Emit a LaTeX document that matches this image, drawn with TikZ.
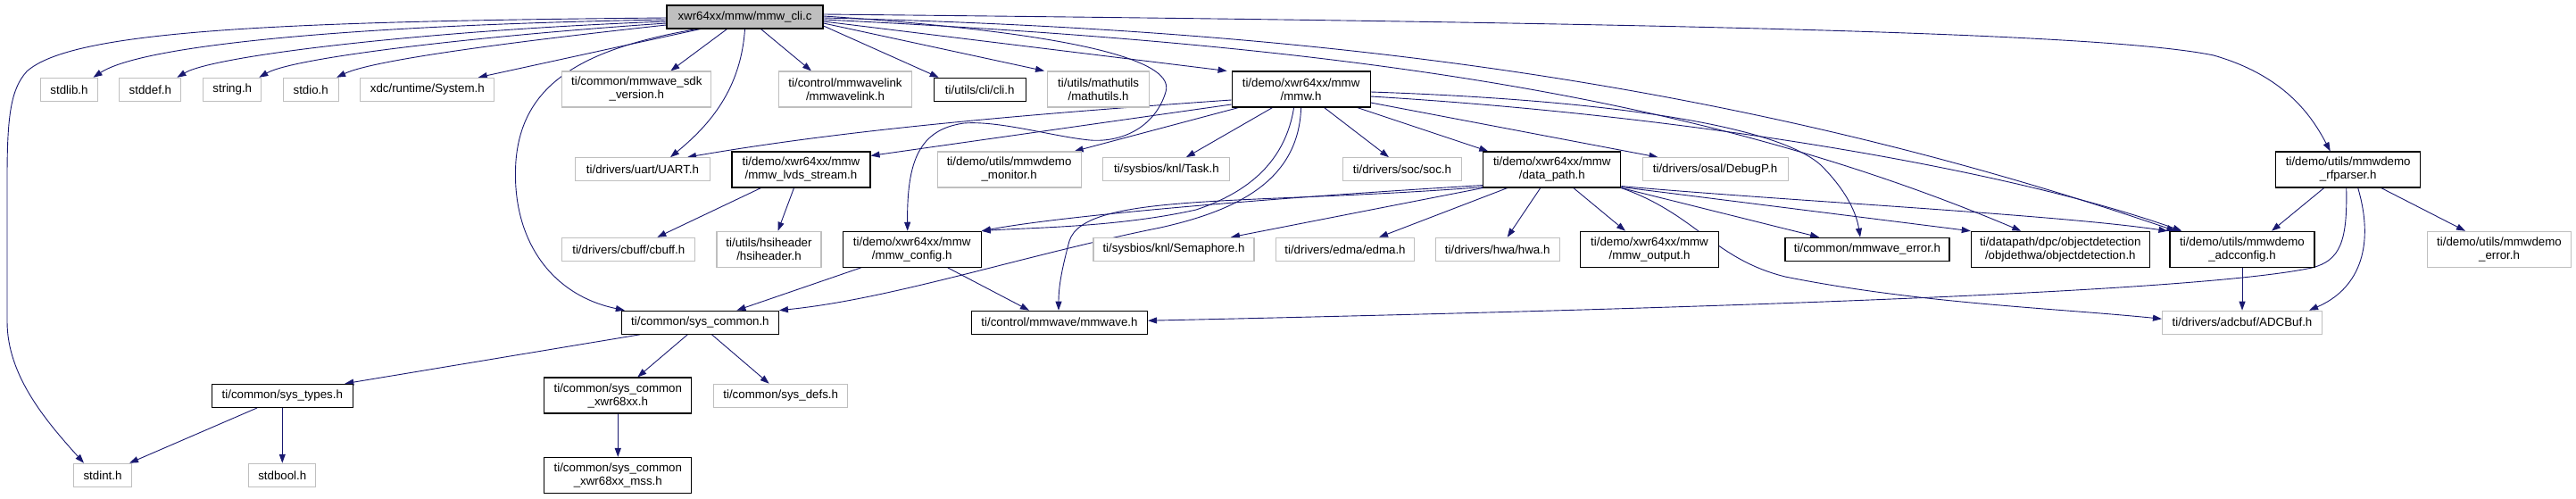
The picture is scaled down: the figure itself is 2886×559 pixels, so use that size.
\documentclass[tikz,border=0pt]{standalone}
\usepackage{fontspec}
\setmainfont{Liberation Sans}
\usetikzlibrary{arrows.meta,backgrounds}
\definecolor{edgeblue}{HTML}{191970}
\definecolor{grayb}{HTML}{BFBFBF}
\begin{document}
\begin{tikzpicture}[x=1pt,y=-1pt,
  box/.style={draw, rectangle, inner sep=0pt, align=center, font=\fontsize{13.3}{15}\selectfont, line width=1.1pt, fill=white},
  gbox/.style={box, draw=grayb},
  bbox/.style={box, draw=black},
  rootbox/.style={box, draw=black, fill=grayb},
  onel/.style={minimum height=26pt},
  twol/.style={minimum height=40pt},
  dep/.style={draw=edgeblue, line width=0.9pt, -{Triangle[length=10pt,width=7pt,fill=edgeblue]}}
]
\useasboundingbox (0,0) rectangle (2886,559);
% row 0
\node[rootbox,onel,minimum width=175pt] (root) at (834.5,19) {xwr64xx/mmw/mmw\_cli.c};
% row 1
\node[gbox,onel,minimum width=64pt] (stdlib) at (77.5,100.3) {stdlib.h};
\node[gbox,onel,minimum width=69pt] (stddef) at (168.4,100.3) {stddef.h};
\node[gbox,onel,minimum width=65pt] (string) at (260.3,100.3) {string.h};
\node[gbox,onel,minimum width=62pt] (stdio) at (348.2,100.3) {stdio.h};
\node[gbox,onel,minimum width=150pt] (system) at (478.8,100.3) {xdc/runtime/System.h};
\node[gbox,twol,minimum width=167pt] (sdkver) at (713.3,100) {ti/common/mmwave\_sdk\\\_version.h};
\node[gbox,twol,minimum width=149pt] (mmwavelink) at (947,100) {ti/control/mmwavelink\\/mmwavelink.h};
\node[bbox,onel,minimum width=103pt] (cli) at (1097.7,100.3) {ti/utils/cli/cli.h};
\node[gbox,twol,minimum width=114pt] (mathutils) at (1230.6,100) {ti/utils/mathutils\\/mathutils.h};
\node[bbox,twol,minimum width=155pt] (mmwh) at (1457.6,100) {ti/demo/xwr64xx/mmw\\/mmw.h};
% row 2
\node[gbox,onel,minimum width=151pt] (uart) at (720,189.7) {ti/drivers/uart/UART.h};
\node[bbox,twol,minimum width=155pt] (lvds) at (897.5,190) {ti/demo/xwr64xx/mmw\\/mmw\_lvds\_stream.h};
\node[gbox,twol,minimum width=161pt] (monitor) at (1130.6,190) {ti/demo/utils/mmwdemo\\\_monitor.h};
\node[gbox,onel,minimum width=142pt] (task) at (1306.9,189.7) {ti/sysbios/knl/Task.h};
\node[gbox,onel,minimum width=133pt] (soc) at (1571,189.7) {ti/drivers/soc/soc.h};
\node[bbox,twol,minimum width=154pt] (datapath) at (1738.8,190) {ti/demo/xwr64xx/mmw\\/data\_path.h};
\node[gbox,onel,minimum width=163pt] (debugp) at (1921.6,189.7) {ti/drivers/osal/DebugP.h};
\node[bbox,twol,minimum width=162pt] (rfparser) at (2630.7,190) {ti/demo/utils/mmwdemo\\\_rfparser.h};
% row 3
\node[gbox,onel,minimum width=149pt] (cbuff) at (704.3,279.3) {ti/drivers/cbuff/cbuff.h};
\node[gbox,twol,minimum width=117pt] (hsiheader) at (861.5,279.3) {ti/utils/hsiheader\\/hsiheader.h};
\node[bbox,twol,minimum width=155pt] (mmwconfig) at (1021.7,279.3) {ti/demo/xwr64xx/mmw\\/mmw\_config.h};
\node[gbox,onel,minimum width=180pt] (semaphore) at (1315,279.3) {ti/sysbios/knl/Semaphore.h};
\node[gbox,onel,minimum width=155pt] (edma) at (1507,279.3) {ti/drivers/edma/edma.h};
\node[gbox,onel,minimum width=139pt] (hwa) at (1677.7,279.3) {ti/drivers/hwa/hwa.h};
\node[bbox,twol,minimum width=155pt] (mmwoutput) at (1848,279.3) {ti/demo/xwr64xx/mmw\\/mmw\_output.h};
\node[bbox,onel,minimum width=184pt] (mmwaveerror) at (2092,279.3) {ti/common/mmwave\_error.h};
\node[bbox,twol,minimum width=200pt] (objdet) at (2308.3,279.3) {ti/datapath/dpc/objectdetection\\/objdethwa/objectdetection.h};
\node[bbox,twol,minimum width=162pt] (adcconfig) at (2512,279.3) {ti/demo/utils/mmwdemo\\\_adcconfig.h};
\node[gbox,twol,minimum width=161pt] (demoerror) at (2800,279.3) {ti/demo/utils/mmwdemo\\\_error.h};
% row 4
\node[bbox,onel,minimum width=176pt] (syscommon) at (784.4,361.2) {ti/common/sys\_common.h};
\node[bbox,onel,minimum width=197pt] (mmwave) at (1187,361.2) {ti/control/mmwave/mmwave.h};
\node[gbox,onel,minimum width=179pt] (adcbuf) at (2512,361.2) {ti/drivers/adcbuf/ADCBuf.h};
% row 5
\node[bbox,onel,minimum width=158pt] (systypes) at (316.3,443.3) {ti/common/sys\_types.h};
\node[bbox,twol,minimum width=165pt] (xwr68xx) at (692.3,443) {ti/common/sys\_common\\\_xwr68xx.h};
\node[gbox,onel,minimum width=150pt] (sysdefs) at (874.7,443.3) {ti/common/sys\_defs.h};
% row 6
\node[gbox,onel,minimum width=65pt] (stdint) at (115,532.3) {stdint.h};
\node[gbox,onel,minimum width=75pt] (stdbool) at (316.3,532.3) {stdbool.h};
\node[bbox,twol,minimum width=165pt] (mss) at (692.3,532.5) {ti/common/sys\_common\\\_xwr68xx\_mss.h};

\begin{scope}[on background layer]
% root -> left
\draw[dep] ([yshift=-1pt]root.west) .. controls (300,24) and (80,35) .. (30,80) .. controls (12,100) and (8,130) .. (8,200) -- (8,360) .. controls (8,420) and (50,470) .. ([xshift=-21pt]stdint.north);
\draw[dep] ([yshift=-3pt]root.west) .. controls (400,28) and (160,50) .. ([xshift=27pt]stdlib.north);
\draw[dep] ([yshift=-5pt]root.west) .. controls (480,34) and (240,62) .. ([xshift=30pt]stddef.north);
\draw[dep] ([yshift=-7pt]root.west) .. controls (540,40) and (330,64) .. ([xshift=30pt]string.north);
\draw[dep] ([yshift=-9pt]root.west) .. controls (600,44) and (420,66) .. ([xshift=29pt]stdio.north);
\draw[dep] ([xshift=-50pt]root.south) -- ([xshift=57pt]system.north);
\draw[dep] ([xshift=-54pt]root.south) .. controls (650,55) and (585,95) .. (578,180) .. controls (572,265) and (615,330) .. ([xshift=4pt]syscommon.north west);
\draw[dep] ([xshift=-20pt]root.south) -- ([xshift=38pt]sdkver.north);
\draw[dep] (root.south) .. controls (830,100) and (795,140) .. ([xshift=31pt]uart.north);
\draw[dep] ([xshift=18pt]root.south) -- ([xshift=-38pt]mmwavelink.north);
% root -> right
\draw[dep] ([yshift=-10pt]root.east) -- ([xshift=-46pt]cli.north);
\draw[dep] ([yshift=-7pt]root.east) -- ([xshift=-3pt]mathutils.north west);
\draw[dep] ([yshift=-5pt]root.east) -- ([xshift=-5pt]mmwh.north west);
\draw[dep] ([yshift=1pt]root.east) .. controls (1150,33) and (1320,60) .. (1306,103) .. controls (1295,140) and (1260,160) .. (1221,157) .. controls (1180,153) and (1120,135) .. (1080,138) .. controls (1030,145) and (1016,180) .. ([xshift=-5pt]mmwconfig.north);
\draw[dep] ([yshift=3pt]root.east) .. controls (1800,25) and (2350,35) .. (2480,62) .. controls (2560,85) and (2590,130) .. ([xshift=-20pt]rfparser.north);
\draw[dep] ([yshift=-1pt]root.east) .. controls (1400,32) and (1900,75) .. ([xshift=7pt]adcconfig.north west);
\draw[dep] ([yshift=-3pt]root.east) .. controls (1500,50) and (1900,105) .. ([xshift=-44pt]objdet.north);
% mmw.h
\draw[dep] ([yshift=-12pt]mmwh.west) .. controls (1150,128) and (950,145) .. ([xshift=50pt]uart.north);
\draw[dep] ([yshift=-17pt]mmwh.west) -- ([yshift=-5pt]lvds.north east);
\draw[dep] ([xshift=-70pt]mmwh.south) -- ([xshift=-8pt]monitor.north east);
\draw[dep] ([xshift=-32pt]mmwh.south) -- ([xshift=22pt]task.north);
\draw[dep] ([xshift=26pt]mmwh.south) -- ([xshift=-15pt]soc.north);
\draw[dep] ([xshift=63pt]mmwh.south) -- ([xshift=6pt]datapath.north west);
\draw[dep] ([yshift=-15pt]mmwh.east) -- ([xshift=18pt]debugp.north west);
\draw[dep] ([yshift=-3pt]mmwh.east) .. controls (1800,112) and (1990,140) .. (2040,185) .. controls (2070,215) and (2080,240) .. ([xshift=-8pt]mmwaveerror.north);
\draw[dep] ([yshift=-8pt]mmwh.east) .. controls (1900,130) and (2250,190) .. ([xshift=14pt]adcconfig.north west);
\draw[dep] ([xshift=-8pt]mmwh.south) .. controls (1440,180) and (1400,215) .. (1340,235) .. controls (1250,255) and (1150,255) .. (mmwconfig.north east);
\draw[dep] (mmwh.south) .. controls (1455,200) and (1390,235) .. (1300,255) .. controls (1150,285) and (1000,335) .. (syscommon.north east);
% data_path
\draw[dep] ([yshift=3pt]datapath.south west) .. controls (1450,220) and (1200,240) .. (mmwconfig.north east);
\draw[dep] ([yshift=1pt]datapath.south west) .. controls (1400,230) and (1215,215) .. (1198,270) .. controls (1190,300) and (1186,320) .. ([xshift=-1pt]mmwave.north);
\draw[dep] (datapath.south west) -- ([xshift=64pt]semaphore.north);
\draw[dep] ([xshift=-50pt]datapath.south) -- ([xshift=38pt]edma.north);
\draw[dep] ([xshift=-13pt]datapath.south) -- ([xshift=11pt]hwa.north);
\draw[dep] ([xshift=24pt]datapath.south) -- ([xshift=-27pt]mmwoutput.north);
\draw[dep] (datapath.south east) -- ([xshift=-54pt]mmwaveerror.north);
\draw[dep] ([yshift=1pt]datapath.south east) -- (objdet.north west);
\draw[dep] ([yshift=2pt]datapath.south east) .. controls (2000,225) and (2300,240) .. ([xshift=-2pt]adcconfig.north west);
\draw[dep] (datapath.south east) .. controls (1900,240) and (1920,290) .. (2000,310) .. controls (2150,340) and (2300,345) .. ([yshift=4pt]adcbuf.west);
% rfparser
\draw[dep] ([xshift=-27pt]rfparser.south) -- ([xshift=33pt]adcconfig.north);
\draw[dep] ([xshift=37pt]rfparser.south) -- ([xshift=-38pt]demoerror.north);
\draw[dep] ([xshift=11pt]rfparser.south) .. controls (2662,280) and (2640,325) .. ([xshift=-15pt]adcbuf.north east);
\draw[dep] ([xshift=-2pt]rfparser.south) .. controls (2630,270) and (2622,292) .. (2590,300) .. controls (2450,330) and (1800,348) .. ([yshift=2pt]mmwave.east);
\draw[dep] (adcconfig.south) -- (adcbuf.north);
% lower part
\draw[dep] ([xshift=-45pt]lvds.south) -- ([xshift=32pt]cbuff.north);
\draw[dep] ([xshift=-8pt]lvds.south) -- ([xshift=10pt]hsiheader.north);
\draw[dep] ([xshift=-57pt]mmwconfig.south) -- ([xshift=41pt]syscommon.north);
\draw[dep] ([xshift=40pt]mmwconfig.south) -- ([xshift=-34pt]mmwave.north);
\draw[dep] ([xshift=-67pt]syscommon.south) -- ([xshift=70pt]systypes.north);
\draw[dep] ([xshift=-14pt]syscommon.south) -- ([xshift=22pt]xwr68xx.north);
\draw[dep] ([xshift=13pt]syscommon.south) -- ([xshift=-13pt]sysdefs.north);
\draw[dep] (xwr68xx.south) -- (mss.north);
\draw[dep] ([xshift=-28pt]systypes.south) -- ([xshift=30pt]stdint.north);
\draw[dep] (systypes.south) -- (stdbool.north);
\end{scope}
\end{tikzpicture}
\end{document}
